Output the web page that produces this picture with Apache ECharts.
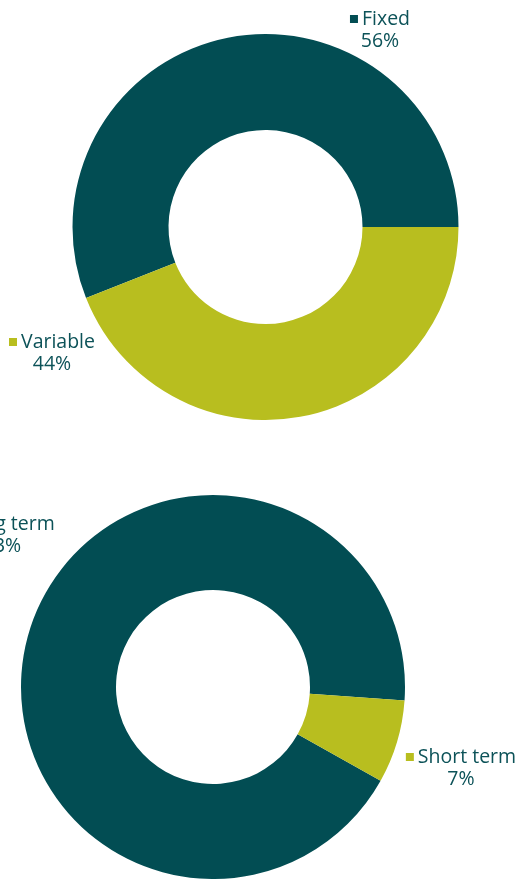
<!DOCTYPE html>
<html>
<head>
<meta charset="utf-8">
<script src="https://cdn.jsdelivr.net/npm/echarts@6/dist/echarts.min.js"></script>
<style>
  html, body { margin: 0; padding: 0; background: #fff; }
  #chart { width: 518px; height: 879px; }
</style>
</head>
<body>
<div id="chart"></div>
<script>
  // interest rate split
  const rateNames = ['Fixed', 'Variable'];
  const rateValues = [56, 44];
  // maturity split
  const termNames = ['Long term', 'Short term'];
  const termValues = [93, 7];

  const dark = '#024d53';
  const olive = '#b8be1f';
  const textColor = '#0c5258';

  // where each label block sits (centre x, top y)
  const ratePos = [[380, 8], [52, 331]];
  const termPos = [[2, 513], [461, 746]];

  function labelFmt(p) {
    const sq = p.color === dark ? 'sqD' : 'sqO';
    return '{' + sq + '|}{nm|' + p.name + '}\n{pc|' + p.value + '%}';
  }

  const labelStyle = {
    show: true,
    position: 'outside',
    formatter: labelFmt,
    overflow: 'none',
    width: 200,
    align: 'center',
    color: textColor,
    fontFamily: 'Open Sans',
    fontSize: 19,
    lineHeight: 22,
    rich: {
      sqD: { width: 8, height: 8, backgroundColor: dark, verticalAlign: 'middle' },
      sqO: { width: 8, height: 8, backgroundColor: olive, verticalAlign: 'middle' },
      nm: { fontFamily: 'Open Sans', fontSize: 19.5, lineHeight: 22, color: textColor, padding: [0, 0, 0, 4] },
      pc: { fontFamily: 'Open Sans', fontSize: 19.5, lineHeight: 22, color: textColor }
    }
  };

  function makeData(names, values) {
    return names.map((n, i) => ({
      name: n,
      value: values[i],
      itemStyle: { color: i === 0 ? dark : olive }
    }));
  }

  const chart = echarts.init(document.getElementById('chart'), null, { renderer: 'canvas' });
  chart.setOption({
    animation: false,
    series: [
      {
        type: 'pie',
        center: [265.5, 227],
        radius: [97, 193],
        startAngle: 0,
        clockwise: false,
        silent: true,
        avoidLabelOverlap: false,
        label: labelStyle,
        labelLine: { show: false },
        labelLayout: (params) => ({
          x: ratePos[params.dataIndex][0],
          y: ratePos[params.dataIndex][1],
          align: 'center',
          verticalAlign: 'top'
        }),
        data: makeData(rateNames, rateValues)
      },
      {
        type: 'pie',
        center: [213, 687],
        radius: [97, 192],
        startAngle: -4,
        clockwise: false,
        silent: true,
        avoidLabelOverlap: false,
        label: labelStyle,
        labelLine: { show: false },
        labelLayout: (params) => ({
          x: termPos[params.dataIndex][0],
          y: termPos[params.dataIndex][1],
          align: 'center',
          verticalAlign: 'top'
        }),
        data: makeData(termNames, termValues)
      }
    ]
  });
</script>
</body>
</html>
